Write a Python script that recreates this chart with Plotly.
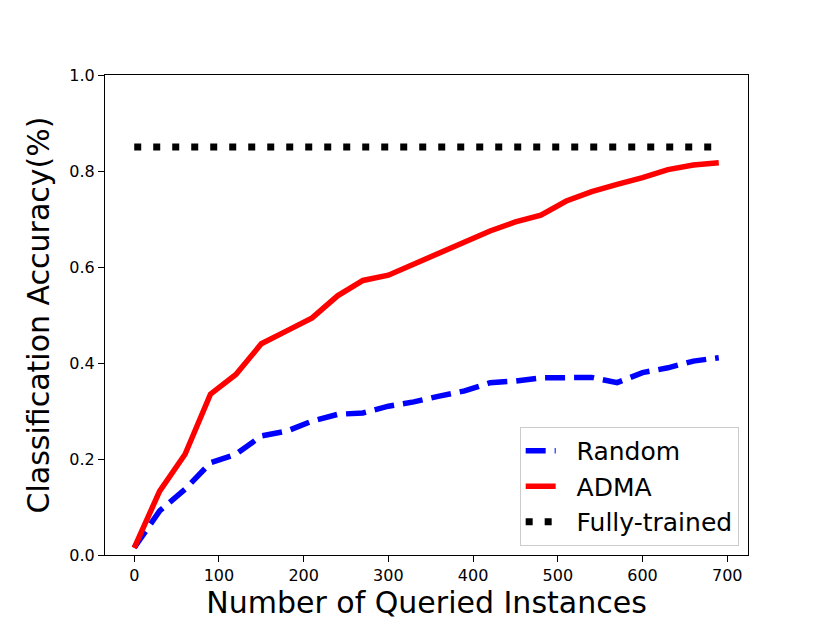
import plotly.graph_objects as go

queries = [0, 30, 60, 90, 120, 150, 180, 210, 240, 270, 300, 330, 360, 390,
           420, 450, 480, 510, 540, 570, 600, 630, 660, 690]
random_acc = [0.015, 0.092, 0.137, 0.192, 0.21, 0.248, 0.258, 0.279, 0.293, 0.296,
              0.31, 0.319, 0.331, 0.342, 0.359, 0.3625, 0.369, 0.369, 0.37, 0.359,
              0.38, 0.39, 0.404, 0.411]
adma_acc = [0.015, 0.133, 0.21, 0.335, 0.376, 0.44, 0.467, 0.494, 0.54, 0.572,
            0.583, 0.606, 0.63, 0.651, 0.675, 0.694, 0.708, 0.7375, 0.757, 0.772,
            0.786, 0.803, 0.8125, 0.817]
full_acc = [0.85] * len(queries)
series_names = ["Random", "ADMA", "Fully-trained"]

pad = "\u00a0\u00a0"  # visual gap between legend sample and label

fig = go.Figure()
fig.add_trace(go.Scatter(x=queries, y=random_acc, mode="lines", name=pad + series_names[0],
                         line=dict(color="#0000ff", width=5.5, dash="20px,9px")))
fig.add_trace(go.Scatter(x=queries, y=adma_acc, mode="lines", name=pad + series_names[1],
                         line=dict(color="#ff0000", width=5.5)))
fig.add_trace(go.Scatter(x=queries, y=full_acc, mode="lines", name=pad + series_names[2],
                         line=dict(color="#000000", width=7, dash="7px,12px")))

axis_common = dict(showgrid=False, zeroline=False, showline=True, linecolor="black",
                   linewidth=1.2, mirror=True, ticks="outside", ticklen=6,
                   tickwidth=1.2, tickcolor="black",
                   tickfont=dict(family="DejaVu Sans", size=16, color="black"))

fig.update_layout(
    width=830, height=623,
    margin=dict(l=97, r=90, t=67, b=76),
    paper_bgcolor="white", plot_bgcolor="white",
    font=dict(family="DejaVu Sans", color="black"),
    xaxis=dict(range=[-34.5, 724.5], tickvals=[0, 100, 200, 300, 400, 500, 600, 700],
               title=dict(text="Number of Queried Instances",
                          font=dict(family="DejaVu Sans", size=30, color="black"),
                          standoff=4),
               **axis_common),
    yaxis=dict(range=[0, 1.0], tickvals=[0, 0.2, 0.4, 0.6, 0.8, 1.0],
               tickformat=".1f",
               title=dict(text="Classification Accuracy(%)",
                          font=dict(family="DejaVu Sans", size=30, color="black"),
                          standoff=10),
               **axis_common),
    legend=dict(x=0.9855, y=0.019, xanchor="right", yanchor="bottom",
                bgcolor="rgba(255,255,255,0.8)", bordercolor="#cccccc", borderwidth=1,
                font=dict(family="DejaVu Sans", size=25, color="black"),
                itemwidth=30, tracegroupgap=0),
    showlegend=True,
)

fig.write_html("out.html")
